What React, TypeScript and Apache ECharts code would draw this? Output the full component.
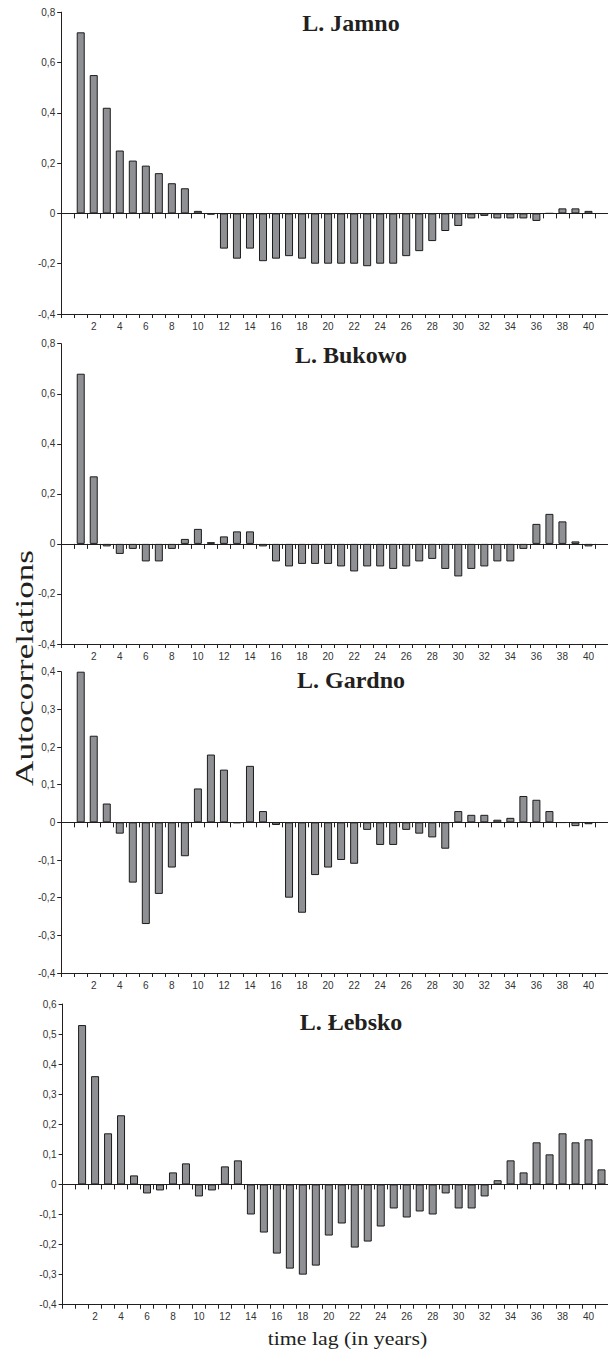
import React, { useEffect, useRef } from "react";
import * as echarts from "echarts";

const lags = [
  "0", "1", "2", "3", "4", "5", "6", "7", "8", "9", "10",
  "11", "12", "13", "14", "15", "16", "17", "18", "19", "20",
  "21", "22", "23", "24", "25", "26", "27", "28", "29", "30",
  "31", "32", "33", "34", "35", "36", "37", "38", "39", "40", "41",
];

const titles = ["L. Jamno", "L. Bukowo", "L. Gardno", "L. Łebsko"];

const jamno = [
  null, 0.72, 0.55, 0.42, 0.25, 0.21, 0.19, 0.16, 0.12, 0.1, 0.01,
  -0.005, -0.14, -0.18, -0.14, -0.19, -0.18, -0.17, -0.18, -0.2, -0.2,
  -0.2, -0.2, -0.21, -0.2, -0.2, -0.17, -0.15, -0.11, -0.07, -0.05,
  -0.02, -0.01, -0.02, -0.02, -0.02, -0.03, 0, 0.02, 0.02, 0.01, null,
];

const bukowo = [
  null, 0.68, 0.27, -0.01, -0.04, -0.02, -0.07, -0.07, -0.02, 0.02, 0.06,
  0.007, 0.03, 0.05, 0.05, -0.01, -0.07, -0.09, -0.08, -0.08, -0.08,
  -0.09, -0.11, -0.09, -0.09, -0.1, -0.09, -0.07, -0.06, -0.1, -0.13,
  -0.1, -0.09, -0.07, -0.07, -0.02, 0.08, 0.12, 0.09, 0.01, -0.01, null,
];

const gardno = [
  null, 0.4, 0.23, 0.05, -0.03, -0.16, -0.27, -0.19, -0.12, -0.09, 0.09,
  0.18, 0.14, -0.002, 0.15, 0.03, -0.007, -0.2, -0.24, -0.14, -0.12,
  -0.1, -0.11, -0.02, -0.06, -0.06, -0.02, -0.03, -0.04, -0.07, 0.03,
  0.02, 0.02, 0.007, 0.012, 0.07, 0.06, 0.03, -0.001, -0.01, -0.005, null,
];

const lebsko = [
  null, 0.53, 0.36, 0.17, 0.23, 0.03, -0.03, -0.02, 0.04, 0.07, -0.04,
  -0.02, 0.06, 0.08, -0.1, -0.16, -0.23, -0.28, -0.3, -0.27, -0.17,
  -0.13, -0.21, -0.19, -0.14, -0.08, -0.11, -0.09, -0.1, -0.03, -0.08,
  -0.08, -0.04, 0.014, 0.08, 0.04, 0.14, 0.1, 0.17, 0.14, 0.15, 0.05,
];

const seriesData = [jamno, bukowo, gardno, lebsko];
const yMax = [0.8, 0.8, 0.4, 0.6];
const yMin = [-0.4, -0.4, -0.4, -0.4];
const yStep = [0.2, 0.2, 0.1, 0.1];

const yLabel = "Autocorrelations";
const xLabel = "time lag (in years)";

// layout (pixels)
const grids = [
  { left: 61.2, top: 12.2, width: 549.6, height: 301.8, titleY: 22.6 },
  { left: 61.2, top: 343.7, width: 549.6, height: 300.3, titleY: 355.2 },
  { left: 61.2, top: 671.7, width: 549.6, height: 301.3, titleY: 680.2 },
  { left: 62.6, top: 1004, width: 548.4, height: 300.7, titleY: 1021.9 },
];

const INK = "#231f20";
const LABEL = "#333333";

const fmt = (v: number) => {
  if (Math.abs(v) < 1e-9) return "0";
  return v.toFixed(1).replace(".", ",");
};

export default function App() {
  const ref = useRef<HTMLDivElement>(null);

  useEffect(() => {
    if (!ref.current) return;
    const chart = echarts.init(ref.current, null, { renderer: "svg" });

    const xAxes: any[] = [];
    const yAxes: any[] = [];
    const series: any[] = [];
    const graphics: any[] = [];

    grids.forEach((g, i) => {
      // bottom axis with labels
      xAxes.push({
        type: "category",
        gridIndex: i,
        data: lags,
        position: "bottom",
        boundaryGap: true,
        axisLine: { show: true, onZero: false, lineStyle: { color: INK, width: 1 } },
        axisTick: { show: true, interval: 0, length: 4, lineStyle: { color: INK, width: 1 } },
        axisLabel: {
          show: true,
          interval: (idx: number) => idx >= 2 && idx <= 40 && idx % 2 === 0,
          fontSize: 10,
          fontFamily: "Liberation Sans, Arial, sans-serif",
          color: LABEL,
          margin: 7,
        },
        splitLine: { show: false },
      });
      // zero line axis
      xAxes.push({
        type: "category",
        gridIndex: i,
        data: lags,
        position: "top",
        boundaryGap: true,
        axisLine: { show: true, onZero: true, lineStyle: { color: INK, width: 1.2 } },
        axisTick: { show: true, inside: true, interval: 0, length: 5, lineStyle: { color: INK, width: 1 } },
        axisLabel: { show: false },
        splitLine: { show: false },
      });
      yAxes.push({
        type: "value",
        gridIndex: i,
        min: yMin[i],
        max: yMax[i],
        interval: yStep[i],
        axisLine: { show: true, onZero: false, lineStyle: { color: INK, width: 1 } },
        axisTick: { show: true, length: 4, lineStyle: { color: INK, width: 1 } },
        axisLabel: {
          fontSize: 10,
          fontFamily: "Liberation Sans, Arial, sans-serif",
          color: LABEL,
          margin: 6,
          formatter: fmt,
        },
        splitLine: { show: false },
      });
      series.push({
        type: "bar",
        xAxisIndex: i * 2,
        yAxisIndex: i,
        data: seriesData[i],
        barWidth: 8,
        silent: true,
        itemStyle: { color: "#8f9094", borderColor: "#1c1c1c", borderWidth: 1 },
      });
      graphics.push({
        type: "text",
        x: 351,
        y: g.titleY,
        style: {
          text: titles[i],
          font: 'bold 24px "Liberation Serif", "Times New Roman", serif',
          fill: INK,
          textAlign: "center",
          textVerticalAlign: "middle",
          align: "center",
          verticalAlign: "middle",
        },
      });
    });

    graphics.push({
      type: "text",
      x: 24.2,
      y: 668,
      rotation: Math.PI / 2,
      scaleX: 1.35,
      style: {
        text: yLabel,
        font: '26px "Liberation Serif", "Times New Roman", serif',
        fill: INK,
        textAlign: "center",
        textVerticalAlign: "middle",
        align: "center",
        verticalAlign: "middle",
      },
    });
    graphics.push({
      type: "text",
      x: 347.4,
      y: 1338.6,
      scaleX: 1.15,
      style: {
        text: xLabel,
        font: '19px "Liberation Serif", "Times New Roman", serif',
        fill: INK,
        textAlign: "center",
        textVerticalAlign: "middle",
        align: "center",
        verticalAlign: "middle",
      },
    });

    chart.setOption({
      animation: false,
      backgroundColor: "#ffffff",
      grid: grids.map((g) => ({
        left: g.left,
        top: g.top,
        width: g.width,
        height: g.height,
        containLabel: false,
      })),
      xAxis: xAxes,
      yAxis: yAxes,
      series,
      graphic: graphics,
    });

    return () => chart.dispose();
  }, []);

  return (
    <div
      ref={ref}
      style={{ position: "absolute", left: 0, top: 0, width: 608, height: 1355 }}
    />
  );
}
